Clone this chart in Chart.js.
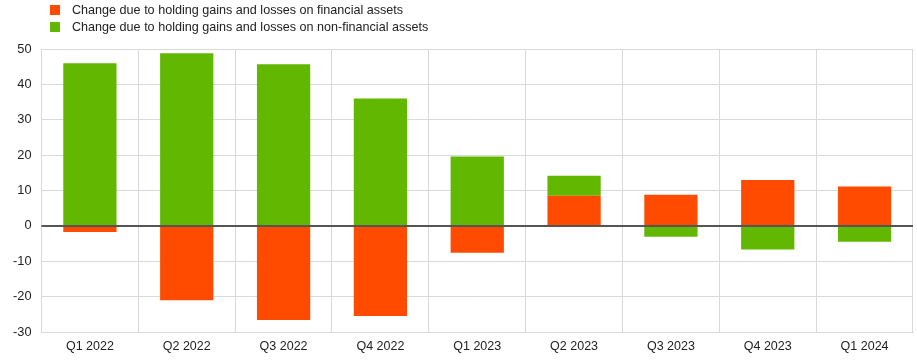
<!DOCTYPE html>
<html><head><meta charset="utf-8">
<script src="https://cdn.jsdelivr.net/npm/chart.js@4"></script>
<style>
html,body{margin:0;padding:0;background:#fff;}
#wrap{position:relative;width:917px;height:361px;}
#legend{position:absolute;left:50px;top:1px;font-family:"Liberation Sans",Arial,sans-serif;font-size:12.6px;color:#222;}
#legend div{display:flex;align-items:center;height:17px;}
#legend span.sw{display:inline-block;width:10px;height:10px;margin-right:12px;}
</style></head>
<body><div id="wrap"><div id="legend"></div><canvas id="c" width="917" height="361"></canvas></div>
<script>
const categories = ["Q1 2022","Q2 2022","Q3 2022","Q4 2022","Q1 2023","Q2 2023","Q3 2023","Q4 2023","Q1 2024"];
const financial = [-1.7, -21.0, -26.6, -25.5, -7.6, 8.5, 8.8, 13.0, 11.1];
const nonFinancial = [46.0, 48.8, 45.7, 36.0, 19.6, 5.7, -3.1, -6.7, -4.5];
const seriesNames = ["Change due to holding gains and losses on financial assets","Change due to holding gains and losses on non-financial assets"];
const colors = ["#ff4b00", "#62b700"];

const zeroLine = {
  id: 'zeroLine',
  afterDatasetsDraw(chart) {
    const {ctx, chartArea, scales} = chart;
    const y = scales.y.getPixelForValue(0);
    ctx.save();
    ctx.strokeStyle = '#555555';
    ctx.lineWidth = 2;
    ctx.beginPath();
    ctx.moveTo(chartArea.left, y);
    ctx.lineTo(chartArea.right, y);
    ctx.stroke();
    ctx.restore();
  }
};

const ctx = document.getElementById('c');
const chart = new Chart(ctx, {
  type: 'bar',
  data: {
    labels: categories,
    datasets: [
      {label: seriesNames[0], data: financial, backgroundColor: colors[0], categoryPercentage: 0.55, barPercentage: 1},
      {label: seriesNames[1], data: nonFinancial, backgroundColor: colors[1], categoryPercentage: 0.55, barPercentage: 1}
    ]
  },
  options: {
    responsive: false,
    animation: false,
    layout: {padding: {top: 49, right: 4, left: 3, bottom: 0}},
    plugins: {legend: {display: false}, tooltip: {enabled: false}},
    scales: {
      x: {
        stacked: true,
        grid: {color: '#d9d9d9', lineWidth: 1, drawTicks: false},
        border: {color: '#d9d9d9'},
        ticks: {color: '#222', font: {family: 'Liberation Sans, Arial', size: 12.5}, padding: 7, maxRotation: 0}
      },
      y: {
        stacked: true,
        min: -30, max: 50,
        grid: {color: '#d9d9d9', lineWidth: 1, drawTicks: false},
        border: {color: '#d9d9d9'},
        ticks: {stepSize: 10, color: '#222', font: {family: 'Liberation Sans, Arial', size: 12.8}, padding: 10}
      }
    }
  },
  plugins: [zeroLine]
});
const lg = document.getElementById('legend');
chart.data.datasets.forEach(ds => {
  const d = document.createElement('div');
  d.innerHTML = '<span class="sw" style="background:' + ds.backgroundColor + '"></span>' + ds.label;
  lg.appendChild(d);
});
</script></body></html>
